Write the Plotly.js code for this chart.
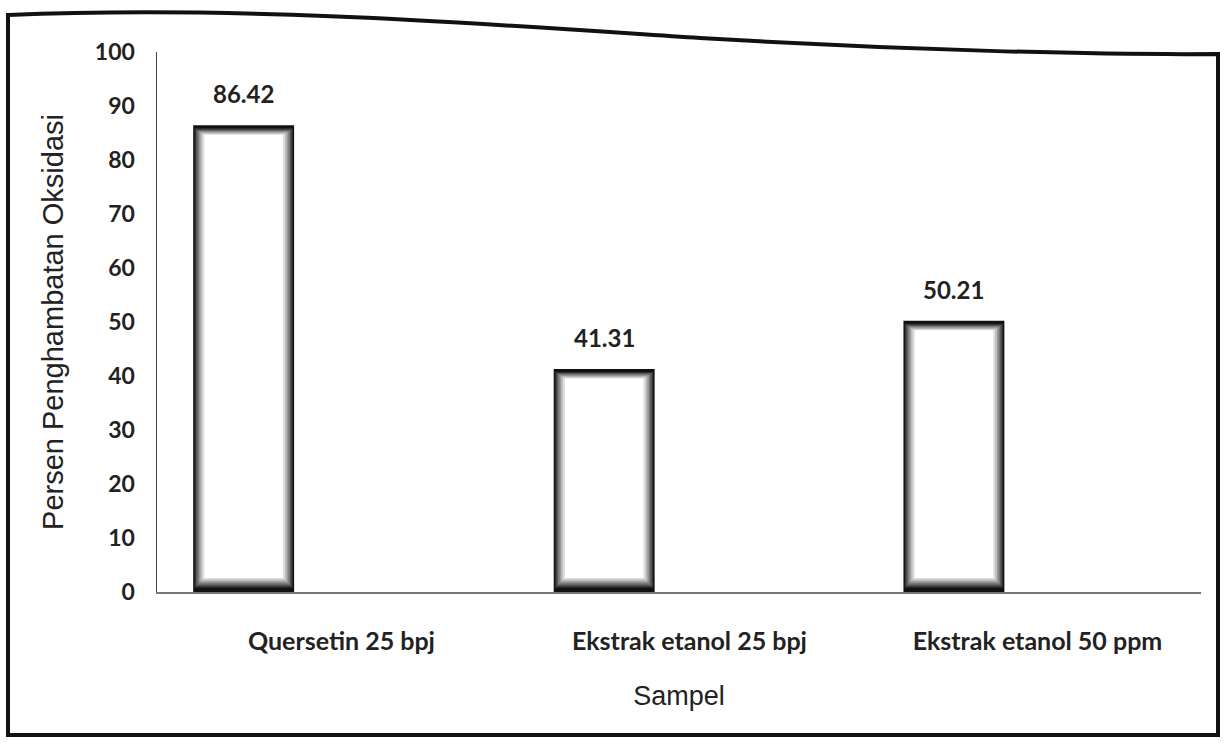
<!DOCTYPE html>
<html>
<head>
<meta charset="utf-8">
<script src="https://cdn.plot.ly/plotly-3.0.1.min.js"></script>
<style>
html,body{margin:0;padding:0;background:#fff;}
#chart{width:1225px;height:743px;}
</style>
</head>
<body>
<div id="chart"></div>
<script>
// Data
const categories = ["Quersetin 25 bpj", "Ekstrak etanol 25 bpj", "Ekstrak etanol 50 ppm"];
const values = [86.42, 41.31, 50.21];
const valueLabels = ["86.42", "41.31", "50.21"];
const yTicks = [0, 10, 20, 30, 40, 50, 60, 70, 80, 90, 100];

// Layout geometry
const W = 1225, H = 743;
const M = {l: 157, r: 24, t: 52, b: 151};
const PW = W - M.l - M.r, PH = H - M.t - M.b;
const px = x => (x - M.l) / PW;
const py = y => (H - M.b - y) / PH;

// bar placement (style): bars sit left of category centre, as in an Excel cluster
const outerWidth = 0.29;
const barOffsets = [-0.426, -0.39, -0.385];

// bar shading layers (outer dark edge to white core)
const layers = [
  {w: 0.290, c: "#111111"},
  {w: 0.282, c: "#333333"},
  {w: 0.274, c: "#555555"},
  {w: 0.266, c: "#777777"},
  {w: 0.257, c: "#999999"},
  {w: 0.248, c: "#bbbbbb"},
  {w: 0.238, c: "#dddddd"},
  {w: 0.226, c: "#ffffff"}
];

const traces = layers.map((L, i) => {
  const base = values.map(() => i === 0 ? 0 : 0.5 + i * 0.3);
  const top = values.map(v => i === 0 ? v : v - (0.35 + i * 0.2));
  return {
    type: "bar",
    x: categories,
    y: top.map((t, k) => t - base[k]),
    base: base,
    width: L.w,
    offset: barOffsets.map(o => o + (outerWidth - L.w) / 2),
    marker: {color: L.c, line: {width: 0}},
    hoverinfo: "skip",
    showlegend: false
  };
});

const labelFont = {family: "Lato, 'Open Sans', sans-serif", size: 24, color: "#222", weight: "bold"};
const annotations = values.map((v, k) => ({
  x: k + barOffsets[k] + outerWidth / 2,
  y: v,
  xref: "x", yref: "y",
  text: valueLabels[k],
  showarrow: false,
  yanchor: "bottom",
  yshift: 15,
  font: labelFont
}));

// Wavy outer frame
const framePath =
  "M " + px(8) + "," + py(735) +
  " L " + px(8) + "," + py(15) +
  " C " + px(250) + "," + py(5) + " " + px(500) + "," + py(25) + " " + px(700) + "," + py(38) +
  " C " + px(900) + "," + py(50) + " " + px(1100) + "," + py(55) + " " + px(1218) + "," + py(54) +
  " L " + px(1218) + "," + py(735) +
  " Z";

const layout = {
  width: W, height: H,
  margin: M,
  paper_bgcolor: "#ffffff",
  plot_bgcolor: "#ffffff",
  barmode: "overlay",
  showlegend: false,
  annotations: annotations,
  xaxis: {
    type: "category",
    range: [-0.53, 2.47],
    showline: true,
    linecolor: "#777",
    linewidth: 1.5,
    ticks: "",
    showgrid: false,
    tickfont: {family: "Lato, 'Open Sans', sans-serif", size: 25, color: "#222", weight: "bold"},
    ticklabelstandoff: 26,
    title: {text: "Sampel", font: {family: "Liberation Sans, Arial, sans-serif", size: 27, color: "#222"}, standoff: 32}
  },
  yaxis: {
    range: [0, 100],
    tickvals: yTicks,
    ticktext: yTicks.map(String),
    showline: true,
    linecolor: "#444",
    linewidth: 1.5,
    ticks: "",
    showgrid: false,
    zeroline: false,
    tickfont: {family: "Lato, 'Open Sans', sans-serif", size: 23, color: "#222", weight: "bold"},
    ticklabelstandoff: 16,
    title: {text: "Persen Penghambatan Oksidasi", font: {family: "Liberation Sans, Arial, sans-serif", size: 29, color: "#222"}, standoff: 22}
  },
  shapes: [{
    type: "path",
    xref: "paper", yref: "paper",
    path: framePath,
    line: {color: "#111", width: 4},
    fillcolor: "rgba(0,0,0,0)",
    layer: "above"
  }]
};

Plotly.newPlot("chart", traces, layout, {displayModeBar: false, staticPlot: true});
</script>
</body>
</html>
